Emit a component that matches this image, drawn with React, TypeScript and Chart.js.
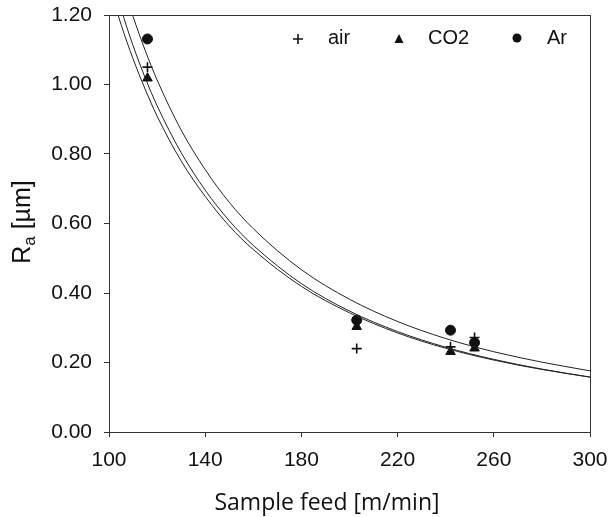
import React, { useEffect, useRef } from "react";
import { Chart, registerables } from "chart.js";

Chart.register(...registerables);

// Measured data (sample feed in m/min, roughness Ra in µm)
const feeds = [116, 203, 242, 252];
const airRa = [1.05, 0.24, 0.245, 0.272];
const co2Ra = [1.018, 0.303, 0.231, 0.241];
const arRa = [1.131, 0.322, 0.293, 0.257];

// Fitted curves, values
const curveX = [100, 105, 110, 115, 120, 130, 140, 150, 160, 180, 200, 220, 240, 260, 280, 300];
const curveAr = [1.434, 1.307, 1.196, 1.099, 1.013, 0.869, 0.755, 0.661, 0.585, 0.467, 0.382, 0.318, 0.269, 0.231, 0.201, 0.176];
const curveAir = [1.287, 1.173, 1.074, 0.987, 0.909, 0.78, 0.678, 0.593, 0.525, 0.419, 0.343, 0.285, 0.241, 0.207, 0.18, 0.158];
const curveCo2 = [1.339, 1.218, 1.112, 1.02, 0.939, 0.804, 0.696, 0.608, 0.537, 0.427, 0.348, 0.289, 0.244, 0.209, 0.181, 0.158];

const xTicks = [100, 140, 180, 220, 260, 300];
const yTicks = [0, 0.2, 0.4, 0.6, 0.8, 1.0, 1.2];

const legendLabels = ["air", "CO2", "Ar"];
const xTitle = "Sample feed [m/min]";

const INK = "#111";
const TICK_FONT = '"Liberation Sans", Arial, sans-serif';

const pts = (xs: number[], ys: number[]) => xs.map((x, i) => ({ x, y: ys[i] }));

const decor = {
  id: "decor",
  afterDraw(chart: any) {
    const { ctx, chartArea } = chart;
    const { left, top, right, bottom } = chartArea;
    ctx.save();
    // frame
    ctx.strokeStyle = "#333";
    ctx.lineWidth = 1;
    ctx.strokeRect(Math.round(left) + 0.5, Math.round(top) + 0.5, Math.round(right - left), Math.round(bottom - top));

    // legend
    const ly = 39;
    ctx.fillStyle = INK;
    ctx.strokeStyle = INK;
    ctx.lineWidth = 1.6;
    ctx.beginPath();
    ctx.moveTo(298 - 5, ly);
    ctx.lineTo(298 + 5, ly);
    ctx.moveTo(298, ly - 5);
    ctx.lineTo(298, ly + 5);
    ctx.stroke();
    ctx.beginPath();
    ctx.moveTo(399, ly - 5);
    ctx.lineTo(399 + 4.5, ly + 4);
    ctx.lineTo(399 - 4.5, ly + 4);
    ctx.closePath();
    ctx.fill();
    ctx.beginPath();
    ctx.arc(517, ly - 1, 4.5, 0, Math.PI * 2);
    ctx.fill();
    ctx.font = "20px " + TICK_FONT;
    ctx.textBaseline = "alphabetic";
    ctx.textAlign = "left";
    ctx.fillText(legendLabels[0], 328, 44);
    ctx.fillText(legendLabels[1], 428, 44);
    ctx.fillText(legendLabels[2], 547, 44);

    // x title
    ctx.font = '23px "Open Sans", sans-serif';
    ctx.textAlign = "center";
    ctx.fillText(xTitle, 327, 510);

    // y title (rotated) R_a [µm]
    ctx.translate(21, 222);
    ctx.rotate(-Math.PI / 2);
    ctx.textAlign = "left";
    const big = "25px " + TICK_FONT;
    const small = "17px " + TICK_FONT;
    ctx.font = big;
    const wR = ctx.measureText("R").width;
    const wRest = ctx.measureText(" [µm]").width;
    ctx.font = small;
    const wa = ctx.measureText("a").width;
    const x0 = -(wR + wa + wRest) / 2;
    ctx.font = big;
    ctx.fillText("R", x0, 9);
    ctx.font = small;
    ctx.fillText("a", x0 + wR, 14);
    ctx.font = big;
    ctx.fillText(" [µm]", x0 + wR + wa, 9);
    ctx.restore();
  },
};

export default function App() {
  const ref = useRef<HTMLCanvasElement>(null);
  useEffect(() => {
    const curveStyle = {
      showLine: true,
      borderColor: "#222",
      borderWidth: 1,
      pointRadius: 0,
      cubicInterpolationMode: "monotone" as const,
      fill: false,
    };
    const chart = new Chart(ref.current!, {
      type: "scatter",
      data: {
        datasets: [
          { label: "fit Ar", data: pts(curveX, curveAr), ...curveStyle },
          { label: "fit air", data: pts(curveX, curveAir), ...curveStyle },
          { label: "fit CO2", data: pts(curveX, curveCo2), ...curveStyle },
          {
            label: legendLabels[0],
            data: pts(feeds, airRa),
            pointStyle: "cross",
            pointRadius: 5,
            borderWidth: 1.6,
            borderColor: INK,
            backgroundColor: INK,
          },
          {
            label: legendLabels[1],
            data: pts(feeds, co2Ra),
            pointStyle: "triangle",
            pointRadius: 5.5,
            borderWidth: 1,
            borderColor: INK,
            backgroundColor: INK,
          },
          {
            label: legendLabels[2],
            data: pts(feeds, arRa),
            pointStyle: "circle",
            pointRadius: 5,
            borderWidth: 1,
            borderColor: INK,
            backgroundColor: INK,
          },
        ],
      },
      options: {
        responsive: false,
        animation: false,
        devicePixelRatio: 1,
        layout: { padding: { left: 0, right: 23, top: 15, bottom: 0 } },
        plugins: { legend: { display: false }, tooltip: { enabled: false }, title: { display: false } },
        scales: {
          x: {
            type: "linear",
            min: 100,
            max: 300,
            afterBuildTicks: (s: any) => {
              s.ticks = xTicks.map((v) => ({ value: v }));
            },
            afterFit: (s: any) => {
              s.height = 85;
              s.paddingLeft = 0;
              s.paddingRight = 0;
            },
            ticks: {
              color: INK,
              font: { family: TICK_FONT, size: 21 },
              padding: 11,
              maxRotation: 0,
              callback: (v: any) => String(v),
            },
            grid: { display: true, drawOnChartArea: false, drawTicks: true, tickLength: 5, color: "#333" },
            border: { display: true, color: "#333" },
          },
          y: {
            type: "linear",
            min: 0,
            max: 1.2,
            afterBuildTicks: (s: any) => {
              s.ticks = yTicks.map((v) => ({ value: v }));
            },
            afterFit: (s: any) => {
              s.width = 109;
              s.paddingTop = 0;
              s.paddingBottom = 0;
            },
            ticks: {
              color: INK,
              font: { family: TICK_FONT, size: 21 },
              padding: 12,
              callback: (v: any) => Number(v).toFixed(2),
            },
            grid: { display: true, drawOnChartArea: false, drawTicks: true, tickLength: 5, color: "#333" },
            border: { display: true, color: "#333" },
          },
        },
      },
      plugins: [decor],
    });
    return () => chart.destroy();
  }, []);
  return (
    <div style={{ position: "fixed", left: 0, top: 0, width: 613, height: 517, background: "#fff" }}>
      <canvas ref={ref} width={613} height={517} style={{ width: 613, height: 517 }} />
    </div>
  );
}
